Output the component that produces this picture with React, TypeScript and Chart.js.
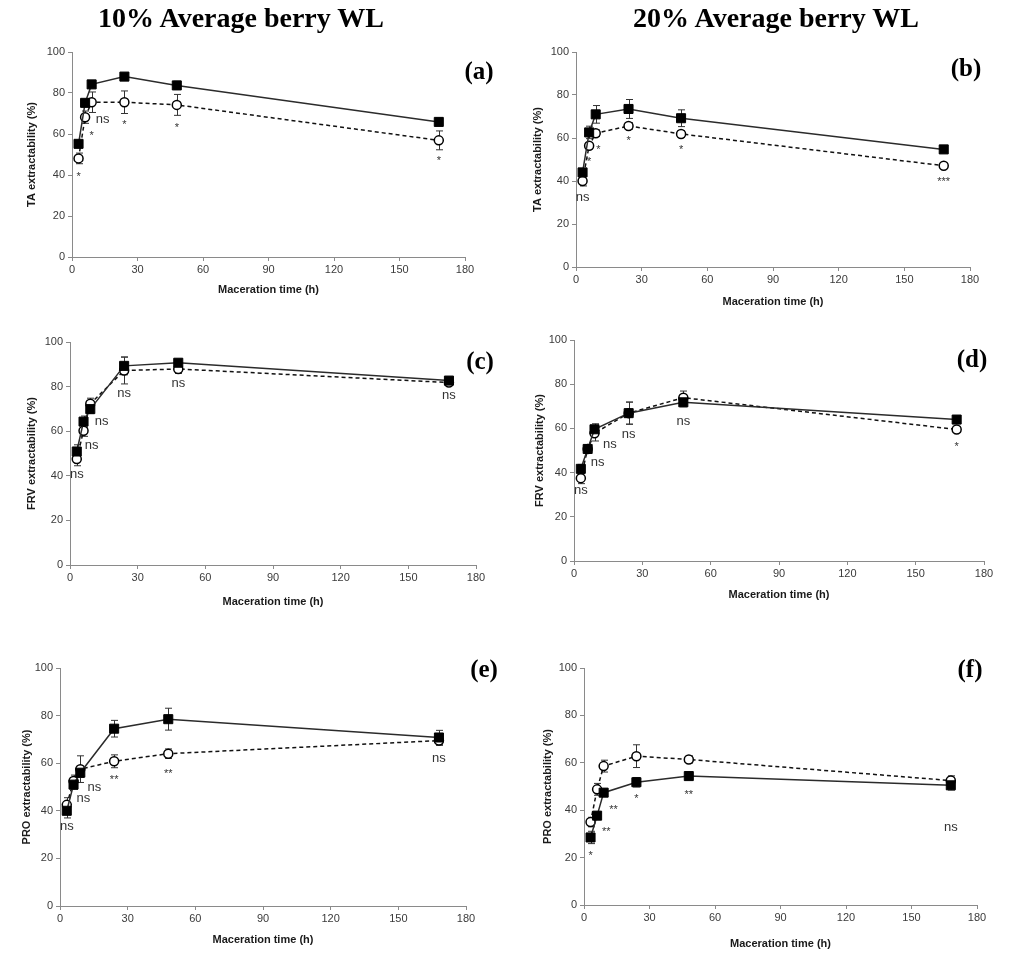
import React, { useEffect, useRef } from "react";
import { Chart, registerables } from "chart.js";
Chart.register(...registerables);

// ---------- data ----------
const hours = [3, 6, 9, 24, 48, 168];
const xTickValues = [0, 30, 60, 90, 120, 150, 180];
const yTickValues = [0, 20, 40, 60, 80, 100];

// (a) TA, 10% WL
const taFilled10 = [55.2, 75.2, 84.2, 88.0, 83.7, 65.9];
const taFilled10Err = [1.5, 1.5, 1.5, 1.0, 2.0, 1.8];
const taOpen10 = [48.1, 68.2, 75.5, 75.5, 74.2, 56.9];
const taOpen10Err = [2.6, 3.0, 5.0, 5.5, 5.1, 4.6];
const taSig10 = ["*", "*", "ns", "*", "*", "*"];
const taSig10X = [3, 9, 14, 24, 48, 168];
const taSig10Y = [41, 61, 67, 66, 64.6, 48.5];

// (b) TA, 20% WL
const taFilled20 = [44.0, 62.6, 71.0, 73.5, 69.2, 54.7];
const taFilled20Err = [1.5, 2.9, 4.1, 4.4, 3.9, 1.0];
const taOpen20 = [40.0, 56.4, 62.2, 65.6, 61.9, 47.1];
const taOpen20Err = [2.3, 1.5, 1.5, 1.5, 1.5, 1.0];
const taSig20 = ["ns", "*", "*", "*", "*", "***"];
const taSig20X = [3, 6, 10.2, 24, 48, 168];
const taSig20Y = [32.5, 50.7, 56.3, 60.3, 56.3, 41];

// (c) FRV, 10% WL
const frvFilled10 = [50.9, 64.3, 69.9, 89.3, 90.7, 82.7];
const frvFilled10Err = [3.0, 2.5, 2.0, 4.0, 1.5, 1.0];
const frvOpen10 = [47.5, 60.2, 72.3, 87.2, 87.9, 81.8];
const frvOpen10Err = [3.0, 2.5, 2.5, 6.0, 2.0, 1.0];
const frvSig10 = ["ns", "ns", "ns", "ns", "ns", "ns"];
const frvSig10X = [3, 9.6, 14, 24, 48, 168];
const frvSig10Y = [40.5, 53.4, 64.3, 77, 81.2, 75.8];

// (d) FRV, 20% WL
const frvFilled20 = [41.7, 50.7, 59.6, 66.9, 71.8, 64.0];
const frvFilled20Err = [2.0, 1.5, 2.5, 5.0, 2.0, 1.0];
const frvOpen20 = [37.5, 50.7, 57.8, 66.9, 73.9, 59.5];
const frvOpen20Err = [2.5, 1.5, 3.5, 5.0, 3.0, 1.2];
const frvSig20 = ["ns", "ns", "ns", "ns", "ns", "*"];
const frvSig20X = [3, 10.4, 15.8, 24, 48, 168];
const frvSig20Y = [31.8, 44.7, 52.9, 57.1, 63.1, 53];

// (e) PRO, 10% WL
const proFilled10 = [40.0, 51.0, 56.0, 74.5, 78.5, 70.8];
const proFilled10Err = [3.0, 2.0, 2.0, 3.5, 4.6, 3.0];
const proOpen10 = [42.5, 52.5, 57.5, 60.8, 64.0, 69.5];
const proOpen10Err = [3.0, 2.5, 5.6, 2.7, 2.0, 2.0];
const proSig10 = ["ns", "ns", "ns", "**", "**", "ns"];
const proSig10X = [3, 10.4, 15.2, 24, 48, 168];
const proSig10Y = [33.3, 45.2, 49.9, 54.6, 57.1, 62];

// (f) PRO, 20% WL
const proFilled20 = [28.5, 37.7, 47.4, 51.8, 54.4, 50.5];
const proFilled20Err = [2.6, 1.5, 1.5, 2.0, 1.0, 2.0];
const proOpen20 = [35.0, 48.8, 58.6, 62.8, 61.4, 52.5];
const proOpen20Err = [2.0, 2.5, 2.5, 4.8, 1.5, 2.0];
const proSig20 = ["*", "**", "**", "*", "**", "ns"];
const proSig20X = [3, 10.2, 13.5, 24, 48, 168];
const proSig20Y = [22.2, 32.4, 41.8, 46.4, 48.1, 32.6];

// ---------- layout ----------
type PanelCfg = {
  key: string;
  yTitle: string;
  filled: number[];
  filledErr: number[];
  open: number[];
  openErr: number[];
  sig: string[];
  sigX: number[];
  sigY: number[];
  plot: { l: number; r: number; t: number; b: number };
  yTitleX: number;
  xTitleY: number;
};

const panels: PanelCfg[] = [
  { key: "a", yTitle: "TA extractability (%)", filled: taFilled10, filledErr: taFilled10Err, open: taOpen10, openErr: taOpen10Err, sig: taSig10, sigX: taSig10X, sigY: taSig10Y, plot: { l: 72, r: 465, t: 52, b: 257 }, yTitleX: 32, xTitleY: 290 },
  { key: "b", yTitle: "TA extractability (%)", filled: taFilled20, filledErr: taFilled20Err, open: taOpen20, openErr: taOpen20Err, sig: taSig20, sigX: taSig20X, sigY: taSig20Y, plot: { l: 576, r: 970, t: 52, b: 267 }, yTitleX: 538, xTitleY: 302 },
  { key: "c", yTitle: "FRV extractability (%)", filled: frvFilled10, filledErr: frvFilled10Err, open: frvOpen10, openErr: frvOpen10Err, sig: frvSig10, sigX: frvSig10X, sigY: frvSig10Y, plot: { l: 70, r: 476, t: 342, b: 565 }, yTitleX: 32, xTitleY: 602 },
  { key: "d", yTitle: "FRV extractability (%)", filled: frvFilled20, filledErr: frvFilled20Err, open: frvOpen20, openErr: frvOpen20Err, sig: frvSig20, sigX: frvSig20X, sigY: frvSig20Y, plot: { l: 574, r: 984, t: 340, b: 561 }, yTitleX: 540, xTitleY: 595 },
  { key: "e", yTitle: "PRO extractability (%)", filled: proFilled10, filledErr: proFilled10Err, open: proOpen10, openErr: proOpen10Err, sig: proSig10, sigX: proSig10X, sigY: proSig10Y, plot: { l: 60, r: 466, t: 668, b: 906 }, yTitleX: 27, xTitleY: 940 },
  { key: "f", yTitle: "PRO extractability (%)", filled: proFilled20, filledErr: proFilled20Err, open: proOpen20, openErr: proOpen20Err, sig: proSig20, sigX: proSig20X, sigY: proSig20Y, plot: { l: 584, r: 977, t: 668, b: 905 }, yTitleX: 548, xTitleY: 944 },
];

const FONT = "'Liberation Sans', Arial, sans-serif";
const AXIS_GRAY = "#8a8a8a";

const errorBarPlugin = {
  id: "errorBars",
  beforeDatasetsDraw(chart: any) {
    const ctx = chart.ctx;
    const xs = chart.scales.x;
    const ys = chart.scales.y;
    chart.data.datasets.forEach((ds: any) => {
      const errs: number[] = ds.errors || [];
      ctx.save();
      ctx.strokeStyle = "#333";
      ctx.lineWidth = 1;
      ds.data.forEach((p: any, i: number) => {
        const e = errs[i] || 0;
        if (!e) return;
        const px = Math.round(xs.getPixelForValue(p.x)) + 0.5;
        const y1 = ys.getPixelForValue(p.y + e);
        const y2 = ys.getPixelForValue(p.y - e);
        ctx.beginPath();
        ctx.moveTo(px, y1);
        ctx.lineTo(px, y2);
        ctx.moveTo(px - 3.5, y1);
        ctx.lineTo(px + 3.5, y1);
        ctx.moveTo(px - 3.5, y2);
        ctx.lineTo(px + 3.5, y2);
        ctx.stroke();
      });
      ctx.restore();
    });
  },
};

const sigPlugin = {
  id: "sigLabels",
  afterDatasetsDraw(chart: any, _args: any, opts: any) {
    const ctx = chart.ctx;
    const xs = chart.scales.x;
    const ys = chart.scales.y;
    const labels: string[] = opts.labels || [];
    const lx: number[] = opts.x || [];
    const ly: number[] = opts.y || [];
    ctx.save();
    ctx.fillStyle = "#333";
    ctx.textAlign = "center";
    ctx.textBaseline = "alphabetic";
    labels.forEach((t, i) => {
      const px = xs.getPixelForValue(lx[i]);
      const py = ys.getPixelForValue(ly[i]);
      const isStar = /^\*+$/.test(t);
      const size = isStar ? 11 : 13;
      ctx.font = `${size}px ${FONT}`;
      const off = isStar ? 0.6 * size : 0.27 * size;
      ctx.fillText(t, px, py + off);
    });
    ctx.restore();
  },
};

function Panel({ cfg }: { cfg: PanelCfg }) {
  const ref = useRef<HTMLCanvasElement | null>(null);
  const half = 6.6;
  const boxLeft = Math.round(cfg.yTitleX - half);
  const boxTop = cfg.plot.t - 20;
  const boxRight = cfg.plot.r + 26;
  const xHeight = Math.round(cfg.xTitleY + half - cfg.plot.b);
  const boxBottom = cfg.plot.b + xHeight;
  const W = boxRight - boxLeft;
  const H = boxBottom - boxTop;
  const yWidth = cfg.plot.l - boxLeft;

  useEffect(() => {
    const canvas = ref.current;
    if (!canvas) return;
    const chart = new Chart(canvas, {
      type: "scatter",
      data: {
        datasets: [
          {
            label: "filled",
            data: hours.map((h, i) => ({ x: h, y: cfg.filled[i] })),
            errors: cfg.filledErr,
            showLine: true,
            borderColor: "#2b2b2b",
            borderWidth: 1.5,
            pointStyle: "rect",
            pointRadius: 6.4,
            pointBackgroundColor: "#000",
            pointBorderColor: "#000",
            pointBorderWidth: 1,
            tension: 0,
          } as any,
          {
            label: "open",
            data: hours.map((h, i) => ({ x: h, y: cfg.open[i] })),
            errors: cfg.openErr,
            showLine: true,
            borderColor: "#111",
            borderWidth: 1.5,
            borderDash: [4, 3],
            pointStyle: "circle",
            pointRadius: 4.5,
            pointBackgroundColor: "#fff",
            pointBorderColor: "#000",
            pointBorderWidth: 1.5,
            tension: 0,
          } as any,
        ],
      },
      options: {
        responsive: false,
        animation: false,
        devicePixelRatio: 1,
        layout: { padding: { left: 0, top: 20, right: 26, bottom: 0 } },
        plugins: {
          legend: { display: false },
          tooltip: { enabled: false },
          sigLabels: { labels: cfg.sig, x: cfg.sigX, y: cfg.sigY },
        } as any,
        scales: {
          x: {
            type: "linear",
            min: 0,
            max: 180,
            afterBuildTicks: (s: any) => {
              s.ticks = xTickValues.map((v) => ({ value: v }));
            },
            afterFit: (s: any) => {
              s.height = xHeight;
            },
            grid: { display: true, drawOnChartArea: false, drawTicks: true, tickLength: 4, color: AXIS_GRAY, lineWidth: 1 },
            border: { display: true, color: AXIS_GRAY, width: 1 },
            ticks: { font: { family: FONT, size: 11 }, color: "#3a3a3a", padding: 2, maxRotation: 0 },
            title: { display: true, text: "Maceration time (h)", font: { family: FONT, size: 11, weight: "bold" }, color: "#1a1a1a", padding: { top: 0, bottom: 0 } },
          },
          y: {
            type: "linear",
            min: 0,
            max: 100,
            afterBuildTicks: (s: any) => {
              s.ticks = yTickValues.map((v) => ({ value: v }));
            },
            afterFit: (s: any) => {
              s.width = yWidth;
            },
            grid: { display: true, drawOnChartArea: false, drawTicks: true, tickLength: 4, color: AXIS_GRAY, lineWidth: 1 },
            border: { display: true, color: AXIS_GRAY, width: 1 },
            ticks: { font: { family: FONT, size: 11 }, color: "#3a3a3a", padding: 3 },
            title: { display: true, text: cfg.yTitle, font: { family: FONT, size: 11, weight: "bold" }, color: "#1a1a1a", padding: { top: 0, bottom: 0 } },
          },
        },
      } as any,
      plugins: [errorBarPlugin, sigPlugin],
    });
    return () => chart.destroy();
  }, []);

  return (
    <div style={{ position: "absolute", left: boxLeft, top: boxTop, width: W, height: H }}>
      <canvas ref={ref} width={W} height={H} style={{ width: W, height: H, display: "block" }} />
    </div>
  );
}

const headers = [
  { text: "10% Average berry WL", x: 241, y: 18 },
  { text: "20% Average berry WL", x: 776, y: 18 },
];
const panelLabels = [
  { text: "(a)", x: 479, y: 70 },
  { text: "(b)", x: 966, y: 67 },
  { text: "(c)", x: 480, y: 360 },
  { text: "(d)", x: 972, y: 358 },
  { text: "(e)", x: 484, y: 668 },
  { text: "(f)", x: 970, y: 668 },
];

export default function App() {
  return (
    <div style={{ position: "absolute", left: 0, top: 0, width: 1016, height: 956, background: "#fff", overflow: "hidden" }}>
      {panels.map((p) => (
        <Panel key={p.key} cfg={p} />
      ))}
      {headers.map((h) => (
        <div
          key={h.text}
          style={{
            position: "absolute",
            left: h.x,
            top: h.y,
            transform: "translate(-50%, -50%)",
            whiteSpace: "nowrap",
            fontFamily: "'Liberation Serif', 'Times New Roman', serif",
            fontWeight: "bold",
            fontSize: 28,
            color: "#000",
            lineHeight: 1,
          }}
        >
          {h.text}
        </div>
      ))}
      {panelLabels.map((l) => (
        <div
          key={l.text}
          style={{
            position: "absolute",
            left: l.x,
            top: l.y,
            transform: "translate(-50%, -50%)",
            whiteSpace: "nowrap",
            fontFamily: "'Liberation Serif', 'Times New Roman', serif",
            fontWeight: "bold",
            fontSize: 25,
            color: "#000",
            lineHeight: 1,
          }}
        >
          {l.text}
        </div>
      ))}
    </div>
  );
}
